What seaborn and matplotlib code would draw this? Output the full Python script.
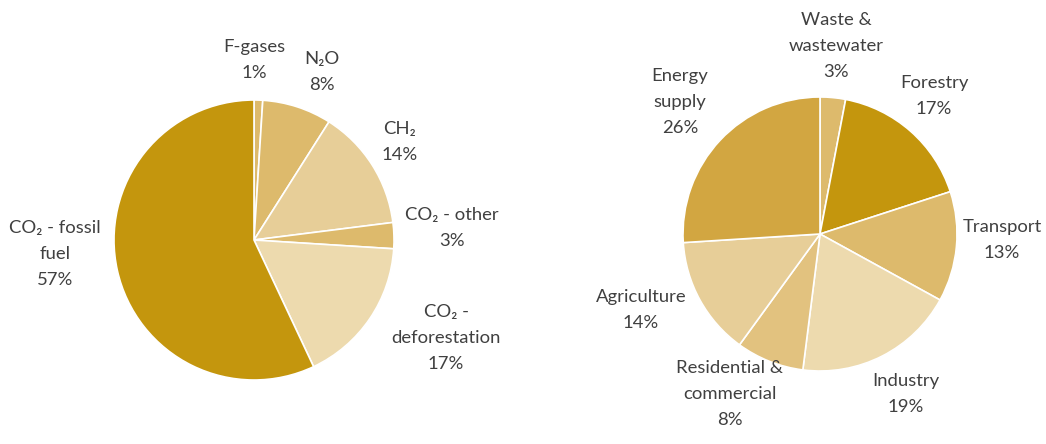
import matplotlib
matplotlib.use("Agg")
import matplotlib.pyplot as plt
import seaborn as sns

# ---- data ----
gas_labels = ["F-gases", "N₂O", "CH₂", "CO₂ - other", "CO₂ -\ndeforestation", "CO₂ - fossil\nfuel"]
gas_values = [1, 8, 14, 3, 17, 57]
gas_colors = ["#DDBA6C", "#DDBA6C", "#E7CE98", "#DDBA6C", "#EDDAAE", "#C4960D"]

sector_labels = ["Waste &\nwastewater", "Forestry", "Transport", "Industry",
                 "Residential &\ncommercial", "Agriculture", "Energy\nsupply"]
sector_values = [3, 17, 13, 19, 8, 14, 26]
sector_colors = ["#DDBA6C", "#C4960D", "#DDBA6C", "#EDDAAE", "#E2C27F", "#E7CE98", "#D2A641"]

sns.set_theme(style="white")
plt.rcParams["font.family"] = ["Lato", "DejaVu Sans"]

W, H = 1046, 444
fig = plt.figure(figsize=(W / 100, H / 100), dpi=100)
ax = fig.add_axes([0, 0, 1, 1])
ax.set_xlim(0, W)
ax.set_ylim(0, H)
ax.set_aspect("equal")
ax.axis("off")

wp = dict(edgecolor="white", linewidth=1.2)
ax.pie(gas_values, colors=gas_colors, startangle=90, counterclock=False,
       center=(254, H - 240), radius=140, wedgeprops=wp, frame=True)
ax.pie(sector_values, colors=sector_colors, startangle=90, counterclock=False,
       center=(820, H - 234), radius=137, wedgeprops=wp, frame=True)
ax.set_xlim(0, W)
ax.set_ylim(0, H)
ax.axis("off")

gas_pos = [(254, 60), (322, 72), (400, 142), (452, 228), (446, 338), (55, 254)]
sector_pos = [(836, 46), (934, 96), (1002, 240), (906, 394), (730, 394), (641, 310), (680, 102)]

tc = "#404040"
for lab, v, (x, y) in zip(gas_labels, gas_values, gas_pos):
    ax.text(x, H - y, f"{lab}\n{v}%", ha="center", va="center", fontsize=13.3,
            color=tc, linespacing=1.75)
for lab, v, (x, y) in zip(sector_labels, sector_values, sector_pos):
    ax.text(x, H - y, f"{lab}\n{v}%", ha="center", va="center", fontsize=13.3,
            color=tc, linespacing=1.75)

fig.savefig("out.png", dpi=100)
